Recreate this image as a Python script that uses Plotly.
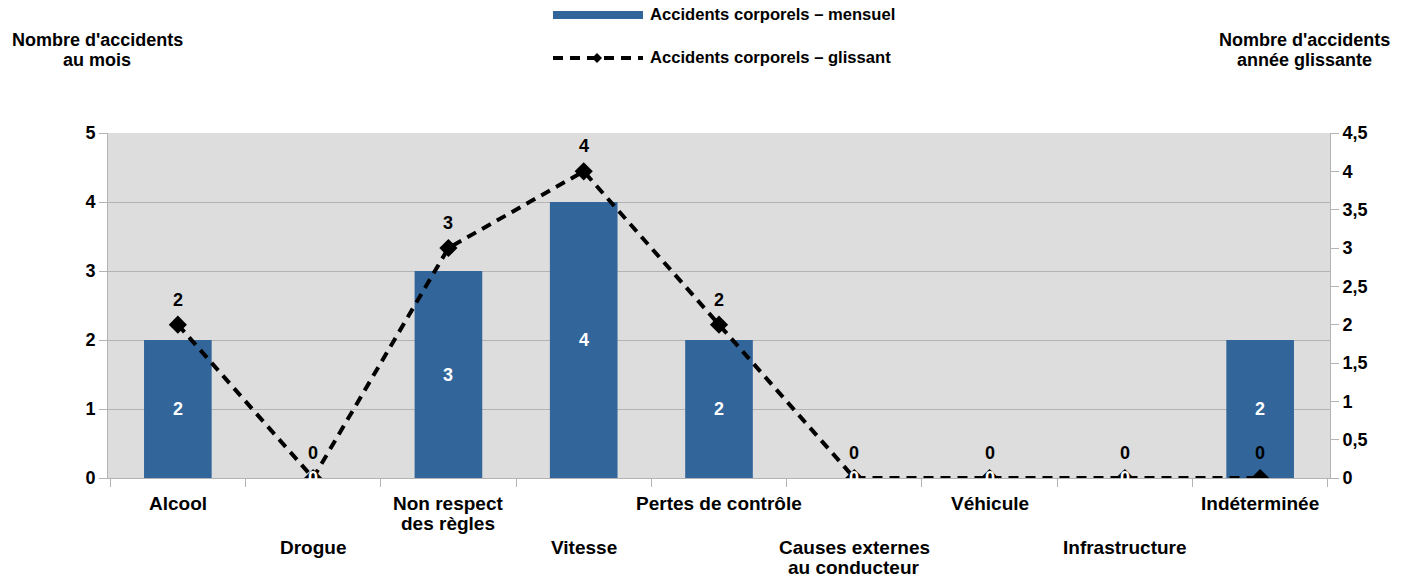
import plotly.graph_objects as go

categories = ["Alcool", "Drogue", "Non respect des règles", "Vitesse", "Pertes de contrôle",
              "Causes externes au conducteur", "Véhicule", "Infrastructure", "Indéterminée"]
cat_lines = [["Alcool"], ["Drogue"], ["Non respect", "des règles"], ["Vitesse"],
             ["Pertes de contrôle"], ["Causes externes", "au conducteur"], ["Véhicule"],
             ["Infrastructure"], ["Indéterminée"]]
mensuel = [2, 0, 3, 4, 2, 0, 0, 0, 2]
glissant = [2, 0, 3, 4, 2, 0, 0, 0, 0]
left_ticks = [0, 1, 2, 3, 4, 5]
right_ticks = [0, 0.5, 1, 1.5, 2, 2.5, 3, 3.5, 4, 4.5]
left_title = ["Nombre d'accidents", "au mois"]
right_title = ["Nombre d'accidents", "année glissante"]

BAR = "#32659A"
GRID = "#B3B3B3"
FONT = "Liberation Sans"
OFF = 8  # page body margin
W, H = 1407 - OFF, 579 - OFF
L, T = 108 - OFF, 133 - OFF
R = W - (1330 - OFF)
B = H - (478 - OFF)
PW, PH = W - L - R, H - T - B

def px(x):  # x in reference screen pixels -> paper
    return (x - OFF - L) / PW

def py(y):  # y in reference screen pixels -> paper
    return (H - B - (y - OFF)) / PH

def f(size, color="black"):
    return dict(family=FONT, size=size, color=color, weight="bold")

fig = go.Figure()
fig.add_trace(go.Bar(x=categories, y=mensuel, marker=dict(color=BAR, line=dict(width=0)),
                     name="Accidents corporels – mensuel", yaxis="y"))
fig.add_trace(go.Scatter(x=categories, y=glissant, mode="lines+markers",
                         line=dict(color="black", width=4, dash="10px,7px"),
                         marker=dict(symbol="diamond", size=14, color="black"),
                         name="Accidents corporels – glissant", yaxis="y2"))

annotations = []
for c, v in zip(categories, mensuel):
    annotations.append(dict(x=c, y=v / 2, xref="x", yref="y", text=str(v), showarrow=False,
                            xanchor="center", yanchor="middle", font=f(18, "white")))
for c, v in zip(categories, glissant):
    annotations.append(dict(x=c, y=v, xref="x", yref="y2", text=str(v), showarrow=False,
                            xanchor="center", yanchor="middle", yshift=25, font=f(18)))
for i, (c, lines) in enumerate(zip(categories, cat_lines)):
    y0 = 503 if i % 2 == 0 else 547
    for k, line in enumerate(lines):
        annotations.append(dict(x=c, y=py(y0 + 20 * k), xref="x", yref="paper",
                                xanchor="center", yanchor="middle", text=line, showarrow=False,
                                font=f(19)))
for xc, lines in ((97, left_title), (1304, right_title)):
    for k, line in enumerate(lines):
        annotations.append(dict(x=px(xc), y=py(40 + 20 * k), xref="paper", yref="paper",
                                text=line, showarrow=False, xanchor="center", yanchor="middle",
                                font=f(18)))
annotations.append(dict(x=px(648), y=py(15), xref="paper", yref="paper", xanchor="left",
                        yanchor="middle", text="Accidents corporels – mensuel", showarrow=False,
                        font=f(16.6)))
annotations.append(dict(x=px(648), y=py(58), xref="paper", yref="paper", xanchor="left",
                        yanchor="middle", text="Accidents corporels – glissant", showarrow=False,
                        font=f(16.6)))

shapes = [
    dict(type="rect", xref="paper", yref="paper", x0=px(553), x1=px(643), y0=py(19), y1=py(11),
         fillcolor=BAR, line=dict(width=0)),
    dict(type="line", xref="paper", yref="paper", x0=px(553), x1=px(643), y0=py(58), y1=py(58),
         line=dict(color="black", width=4, dash="10px,7px")),
    dict(type="path", xref="paper", yref="paper",
         path=f"M {px(592)} {py(58)} L {px(597)} {py(53)} L {px(602)} {py(58)} L {px(597)} {py(63)} Z",
         fillcolor="black", line=dict(width=0)),
]

fig.update_layout(
    width=W, height=H,
    margin=dict(l=L, r=R, t=T, b=B),
    paper_bgcolor="white", plot_bgcolor="#DDDDDD",
    separators=", ",
    showlegend=False,
    bargap=0.5,
    font=dict(family=FONT, size=16, color="black"),
    xaxis=dict(type="category", showticklabels=False, tickson="boundaries", ticks="outside",
               ticklen=8, tickcolor=GRID, showline=True, linecolor=GRID, linewidth=1,
               showgrid=False, zeroline=False),
    yaxis=dict(range=[0, 5], tickvals=left_ticks, ticks="outside", ticklen=8, tickcolor=GRID,
               showline=True, linecolor=GRID, gridcolor=GRID, gridwidth=1, zeroline=False,
               tickfont=f(18)),
    yaxis2=dict(range=[0, 4.5], tickvals=right_ticks, overlaying="y", side="right", ticks="outside",
                ticklen=8, tickcolor=GRID, showline=True, linecolor=GRID, showgrid=False,
                zeroline=False, tickformat=".1~f", tickfont=f(18)),
    annotations=annotations,
    shapes=shapes,
)

fig.write_html("out.html")
